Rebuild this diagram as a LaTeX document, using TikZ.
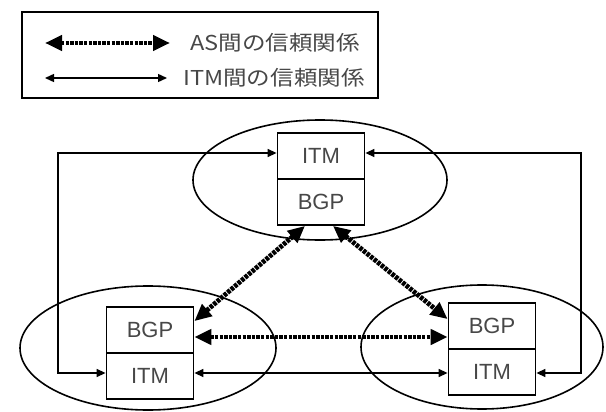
\documentclass[tikz,border=0pt]{standalone}
\usepackage{fontspec}
\setmainfont{Liberation Sans}
\newfontfamily\jp[FakeStretch=1.15]{Noto Sans CJK JP}
\usetikzlibrary{arrows.meta}

\tikzset{
  half/.style={draw, line width=1.8pt, minimum width=87pt, minimum height=46pt,
    inner sep=0pt, font=\fontsize{22}{22}\selectfont, text=black!72},
  asregion/.style={draw, line width=1.6pt},
  itmlink/.style={line width=1.4pt, {Triangle[length=9pt,width=8pt]}-{Triangle[length=9pt,width=8pt]}},
  aslink/.style={line width=4.8pt, dash pattern=on 3.5pt off 1.1pt,
    {Triangle[length=17pt,width=15pt]}-{Triangle[length=17pt,width=15pt]}},
  legendtext/.style={anchor=west, inner sep=0pt, font=\jp\fontsize{20.5}{20.5}\selectfont, text=black!72},
}

\begin{document}
\begin{tikzpicture}[x=1pt,y=-1pt]
  \useasboundingbox (0,0) rectangle (606,412);

  % legend
  \node[draw, line width=2.2pt, minimum width=356pt, minimum height=86pt, inner sep=0pt] (legend) at (200,55) {};
  \coordinate (a1) at (45,43);
  \coordinate (a2) at (170,43);
  \coordinate (b1) at (45,78);
  \coordinate (b2) at (167,78);
  \draw[aslink] (a1) -- (a2);
  \draw[itmlink] (b1) -- (b2);
  \node[legendtext] (asl) at (190,43) {AS間の信頼関係};
  \node[legendtext] (itml) at (183,78) {ITM間の信頼関係};

  % AS regions
  \draw[asregion] (320,180) ellipse [x radius=127, y radius=60];
  \draw[asregion] (148,348) ellipse [x radius=128, y radius=62];
  \draw[asregion] (482,347) ellipse [x radius=121, y radius=62];

  % routers: ITM over BGP and the reverse
  \node[half] (itmT) at (321,156) {ITM};
  \node[half] (bgpT) at (321,202) {BGP};
  \node[half] (bgpL) at (150,330) {BGP};
  \node[half] (itmL) at (150,376) {ITM};
  \node[half] (bgpR) at (492,326) {BGP};
  \node[half] (itmR) at (492,372) {ITM};

  % ITM links
  \coordinate (lx) at (58,153);
  \coordinate (rx) at (581,153);
  \draw[itmlink] (itmT.west |- lx) -- (lx) |- (itmL.west |- 0,373);
  \draw[itmlink] (itmT.east |- rx) -- (rx) |- (itmR.east |- 0,373);
  \draw[itmlink] (itmL.east |- 0,373) -- (itmR.west |- 0,373);

  % AS links
  \draw[aslink] ([xshift=-16pt]bgpT.south) -- ([yshift=-15pt]bgpL.north east);
  \draw[aslink] ([xshift=12pt]bgpT.south) -- ([yshift=-17pt]bgpR.north west);
  \draw[aslink] (bgpL.east |- 0,337) -- (bgpR.west |- 0,337);
\end{tikzpicture}
\end{document}
